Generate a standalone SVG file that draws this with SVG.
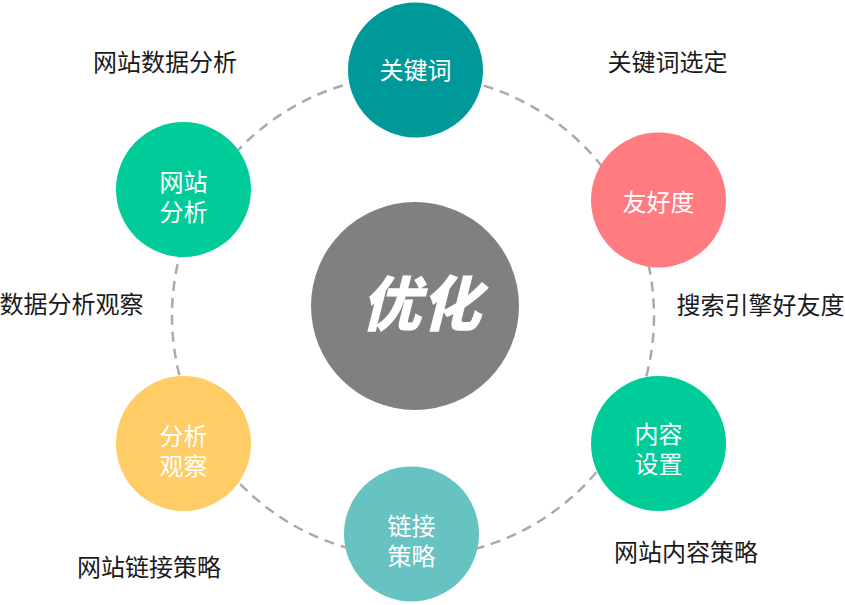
<svg xmlns="http://www.w3.org/2000/svg" width="845" height="605" viewBox="0 0 845 605">
<style>
  .lbl { font-family: "Noto Sans CJK SC", "Noto Sans", sans-serif; font-size: 24px; fill: #1a1a1a; text-anchor: middle; dominant-baseline: central; }
  .in { font-family: "Noto Sans CJK SC", "Noto Sans", sans-serif; font-size: 24px; fill: #ffffff; text-anchor: middle; dominant-baseline: central; }
  .ring { fill: none; stroke: #aaaaaa; stroke-width: 2.5; stroke-dasharray: 10 7; }
</style>
<rect width="845" height="605" fill="#ffffff"/>
<g id="connectors">
  <circle class="ring" cx="413" cy="316" r="241"/>
</g>
<g id="center">
  <circle cx="415" cy="306" r="104" fill="#808080"/>
  <text x="421" y="299" font-family="Noto Sans CJK SC, sans-serif" font-size="60" font-weight="900" font-style="italic" fill="#ffffff" text-anchor="middle" dominant-baseline="central">优化</text>
</g>
<g id="n-keyword">
  <circle cx="415.5" cy="70" r="67.5" fill="#009999"/>
  <text class="in" x="415.5" y="68">关键词</text>
</g>
<g id="n-friendly">
  <circle cx="658.5" cy="200" r="67.5" fill="#ff7b80"/>
  <text class="in" x="658.5" y="200">友好度</text>
</g>
<g id="n-content">
  <circle cx="658.5" cy="443.5" r="67.5" fill="#00cc99"/>
  <text class="in" x="658.5" y="432"><tspan x="658.5">内容</tspan><tspan x="658.5" dy="30">设置</tspan></text>
</g>
<g id="n-link">
  <circle cx="411.5" cy="534" r="67.5" fill="#66c3c1"/>
  <text class="in" x="411.5" y="524"><tspan x="411.5">链接</tspan><tspan x="411.5" dy="30">策略</tspan></text>
</g>
<g id="n-observe">
  <circle cx="183.5" cy="443.5" r="67.5" fill="#ffcc66"/>
  <text class="in" x="183.5" y="434"><tspan x="183.5">分析</tspan><tspan x="183.5" dy="30">观察</tspan></text>
</g>
<g id="n-analysis">
  <circle cx="183.5" cy="189.5" r="67.5" fill="#00cc99"/>
  <text class="in" x="183.5" y="180"><tspan x="183.5">网站</tspan><tspan x="183.5" dy="29.5">分析</tspan></text>
</g>
<g id="labels">
  <text class="lbl" x="165" y="60.5">网站数据分析</text>
  <text class="lbl" x="667.5" y="60.5">关键词选定</text>
  <text class="lbl" x="71.5" y="302">数据分析观察</text>
  <text class="lbl" x="760.5" y="303.5">搜索引擎好友度</text>
  <text class="lbl" x="149" y="565">网站链接策略</text>
  <text class="lbl" x="686" y="550">网站内容策略</text>
</g>
</svg>
